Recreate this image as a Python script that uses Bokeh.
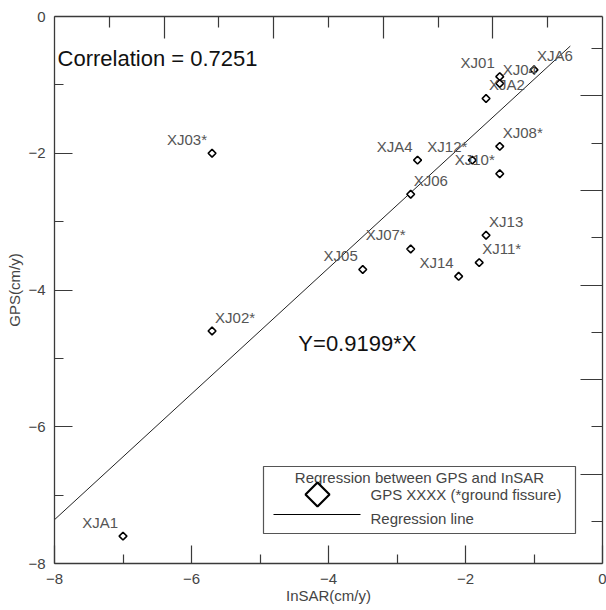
import numpy as np
from bokeh.plotting import figure
from bokeh.models import (Range1d, LinearAxis, FixedTicker, ColumnDataSource,
                          Label, BoxAnnotation, PolyAnnotation)
from bokeh.embed import file_html
from bokeh.resources import INLINE
from bokeh.core.properties import value

# ---------------- data ----------------
stations = ["XJA1", "XJ02*", "XJ03*", "XJ05", "XJ07*", "XJ14", "XJ11*", "XJ13",
            "XJ06", "XJA4", "XJ12*", "XJ10*", "XJ08*", "XJ01", "XJ04", "XJA2", "XJA6"]
insar = [-7.0, -5.7, -5.7, -3.5, -2.8, -2.1, -1.8, -1.7,
         -2.8, -2.7, -1.9, -1.5, -1.5, -1.5, -1.5, -1.7, -1.0]
gps = [-7.6, -4.6, -2.0, -3.7, -3.4, -3.8, -3.6, -3.2,
       -2.6, -2.1, -2.1, -2.3, -1.9, -0.88, -0.98, -1.2, -0.78]
slope = 0.9199
correlation = 0.7251
fit_x = [-8.0, -0.47]

x_ticks = [-8, -6, -4, -2, 0]
x_minor = [-7, -5, -3, -1]
y_ticks = [-8, -6, -4, -2, 0]
y_minor = [-7, -5, -3, -1]

# decorative (unlabelled) top / right axis tick positions
top_long = [2, 4, 6, 8]
top_short = [1, 3, 5, 7, 9]
right_long = [1, 3, 5, 7, 9]
right_short = [0, 2, 4, 6, 8, 10]

# label placement style (left / right of the point)
label_side = ["L", "R", "L", "L", "L", "L", "R", "R",
              "R", "L", "L", "L", "R", "L", "R", "R", "R"]

FONT = "Liberation Sans"
AX = "#3a3a3a"
TXT = "#444444"

p = figure(frame_width=548, frame_height=547,
           x_range=Range1d(-8, 0), y_range=Range1d(-8, 0),
           output_backend="svg", toolbar_location=None,
           min_border_left=54, min_border_right=4, min_border_top=16, min_border_bottom=44,
           background_fill_color="white", border_fill_color="white")
p.grid.visible = False
p.outline_line_color = None

def style_axis(ax, major_in, minor_in):
    ax.axis_line_color = AX
    ax.axis_line_width = 1.3
    ax.major_tick_line_color = AX
    ax.minor_tick_line_color = AX
    ax.major_tick_in = major_in
    ax.major_tick_out = 0
    ax.minor_tick_in = minor_in
    ax.minor_tick_out = 0
    ax.major_tick_line_width = 1.2
    ax.minor_tick_line_width = 1.2
    ax.major_label_text_font = FONT
    ax.major_label_text_font_size = "15px"
    ax.major_label_text_color = TXT
    ax.axis_label_text_font = FONT
    ax.axis_label_text_font_size = "15px"
    ax.axis_label_text_font_style = "normal"
    ax.axis_label_text_color = TXT

xa = p.xaxis[0]
xa.ticker = FixedTicker(ticks=x_ticks, minor_ticks=x_minor)
style_axis(xa, 18, 9)
xa.axis_label = "InSAR(cm/y)"
xa.major_label_standoff = 10
xa.axis_label_standoff = 0

ya = p.yaxis[0]
ya.ticker = FixedTicker(ticks=y_ticks, minor_ticks=y_minor)
style_axis(ya, 18, 9)
ya.axis_label = "GPS(cm/y)"
ya.major_label_standoff = 9
ya.axis_label_standoff = 2

# decorative top / right axes: only minor ticks (no labels at all)
p.extra_x_ranges = {"top": Range1d(0, 10)}
p.extra_y_ranges = {"right": Range1d(-0.888, 10.677)}
for name, pos, length, draw_line in (
        ("top", top_long, 22, True), ("top", top_short, 11, False)):
    ax = LinearAxis(x_range_name=name, ticker=FixedTicker(ticks=[], minor_ticks=pos))
    style_axis(ax, 0, length)
    ax.major_label_standoff = 0
    if not draw_line:
        ax.axis_line_color = None
    p.add_layout(ax, "above")
for name, pos, length, draw_line in (
        ("right", right_long, 22, True), ("right", right_short, 11, False)):
    ax = LinearAxis(y_range_name=name, ticker=FixedTicker(ticks=[], minor_ticks=pos))
    style_axis(ax, 0, length)
    ax.major_label_standoff = 0
    if not draw_line:
        ax.axis_line_color = None
    p.add_layout(ax, "right")

# regression line
p.line(fit_x, [slope * x for x in fit_x], line_color="#222222", line_width=1)

# points
p.scatter(insar, gps, marker="square", angle=np.pi / 4, size=5.5,
          fill_color="white", line_color="black", line_width=1.6)

# point labels
for side, align, xo in (("L", "right", -5), ("R", "left", 3)):
    idx = [i for i, s in enumerate(label_side) if s == side]
    src = ColumnDataSource(dict(x=[insar[i] for i in idx], y=[gps[i] for i in idx],
                                t=[stations[i] for i in idx]))
    p.text("x", "y", text="t", source=src, x_offset=xo, y_offset=-14,
           text_align=align, text_baseline="alphabetic",
           text_font=value(FONT), text_font_size="15px", text_color="#555555")

# annotations
p.add_layout(Label(x=-7.955, y=-0.80, text=f"Correlation = {correlation}",
                   text_font=FONT, text_font_size="22px", text_color="#111111"))
p.add_layout(Label(x=-4.44, y=-4.96, text=f"Y={slope}*X",
                   text_font=FONT, text_font_size="22px", text_color="#111111"))

# legend box (screen units relative to frame, y up from frame bottom)
p.add_layout(BoxAnnotation(left=209, right=521, bottom=30, top=97,
                           left_units="screen", right_units="screen",
                           top_units="screen", bottom_units="screen",
                           fill_color="white", fill_alpha=1.0,
                           line_color="#555555", line_alpha=1.0, line_width=1.2))
p.add_layout(Label(x=365, y=86, x_units="screen", y_units="screen",
                   text="Regression between GPS and InSAR", text_align="center",
                   text_baseline="middle", text_font=FONT, text_font_size="15px",
                   text_color=TXT))
p.add_layout(PolyAnnotation(xs=[263, 275, 263, 251], ys=[81, 69, 57, 69],
                            xs_units="screen", ys_units="screen",
                            fill_color="white", fill_alpha=1.0,
                            line_color="black", line_alpha=1.0, line_width=2.2))
p.add_layout(Label(x=316, y=69, x_units="screen", y_units="screen",
                   text="GPS XXXX (*ground fissure)", text_baseline="middle",
                   text_font=FONT, text_font_size="15px", text_color=TXT))
p.add_layout(PolyAnnotation(xs=[219, 306], ys=[49, 49],
                            xs_units="screen", ys_units="screen",
                            fill_alpha=0, line_color="black", line_alpha=1.0,
                            line_width=1.2))
p.add_layout(Label(x=316, y=45, x_units="screen", y_units="screen",
                   text="Regression line", text_baseline="middle",
                   text_font=FONT, text_font_size="15px", text_color=TXT))

open("out.html", "w").write(file_html(p, INLINE))
